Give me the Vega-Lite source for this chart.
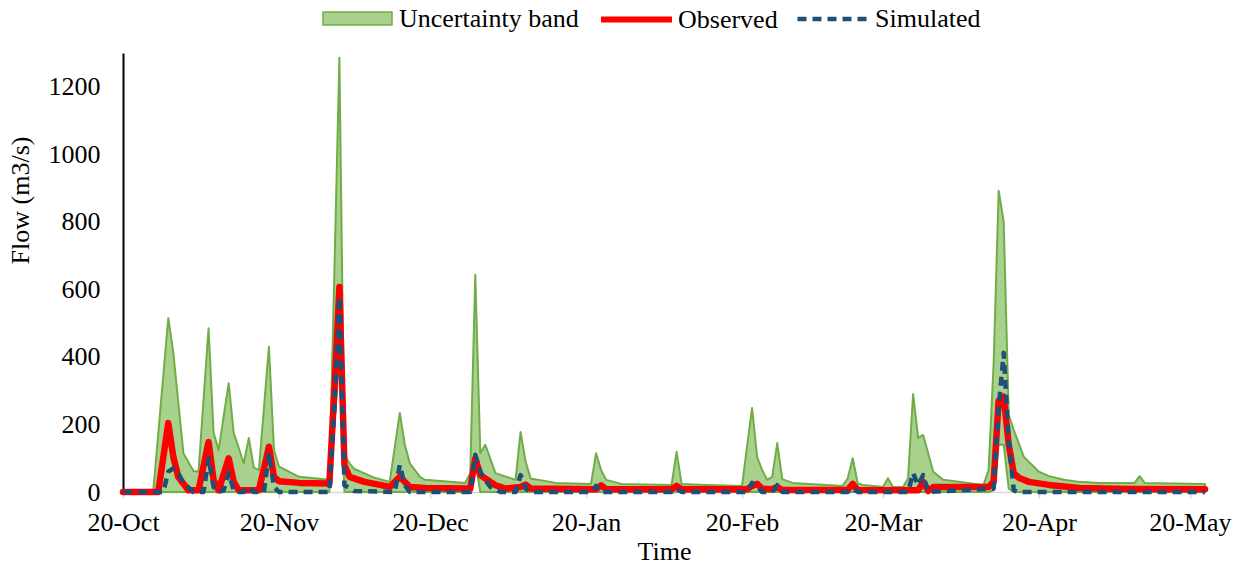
{
  "$schema": "https://vega.github.io/schema/vega-lite/v6.json",
  "width": 1082,
  "height": 439,
  "autosize": {"type": "none"},
  "padding": {"left": 123, "top": 53, "right": 32, "bottom": 77},
  "background": "white",
  "config": {
    "font": "Liberation Serif",
    "view": {"stroke": null},
    "axis": {"labelFont": "Liberation Serif", "titleFont": "Liberation Serif", "labelFontSize": 26, "titleFontSize": 26, "labelColor": "#000", "titleColor": "#000", "titleFontWeight": "normal", "grid": false},
    "legend": {"labelFont": "Liberation Serif", "labelFontSize": 26, "labelColor": "#000", "labelLimit": 500, "padding": 0, "symbolOpacity": 1}
  },
  "datasets": {
    "band": [
      {"date": "2010-10-20", "upper": 0, "lower": 0},
      {"date": "2010-10-26", "upper": 0, "lower": 0},
      {"date": "2010-10-29", "upper": 515, "lower": 0},
      {"date": "2010-10-30", "upper": 412, "lower": 0},
      {"date": "2010-11-01", "upper": 115, "lower": 0},
      {"date": "2010-11-03", "upper": 62, "lower": 0},
      {"date": "2010-11-04", "upper": 60, "lower": 0},
      {"date": "2010-11-06", "upper": 485, "lower": 0},
      {"date": "2010-11-07", "upper": 175, "lower": 0},
      {"date": "2010-11-08", "upper": 124, "lower": 0},
      {"date": "2010-11-10", "upper": 322, "lower": 0},
      {"date": "2010-11-11", "upper": 175, "lower": 0},
      {"date": "2010-11-13", "upper": 85, "lower": 0},
      {"date": "2010-11-14", "upper": 160, "lower": 0},
      {"date": "2010-11-15", "upper": 72, "lower": 0},
      {"date": "2010-11-16", "upper": 65, "lower": 0},
      {"date": "2010-11-18", "upper": 430, "lower": 0},
      {"date": "2010-11-19", "upper": 124, "lower": 0},
      {"date": "2010-11-20", "upper": 75, "lower": 0},
      {"date": "2010-11-24", "upper": 45, "lower": 0},
      {"date": "2010-11-30", "upper": 36, "lower": 0},
      {"date": "2010-12-01", "upper": 650, "lower": 200},
      {"date": "2010-12-02", "upper": 1286, "lower": 400},
      {"date": "2010-12-03", "upper": 110, "lower": 0},
      {"date": "2010-12-04", "upper": 85, "lower": 0},
      {"date": "2010-12-05", "upper": 68, "lower": 0},
      {"date": "2010-12-09", "upper": 42, "lower": 0},
      {"date": "2010-12-12", "upper": 30, "lower": 0},
      {"date": "2010-12-14", "upper": 234, "lower": 0},
      {"date": "2010-12-15", "upper": 140, "lower": 0},
      {"date": "2010-12-16", "upper": 85, "lower": 0},
      {"date": "2010-12-18", "upper": 45, "lower": 0},
      {"date": "2010-12-19", "upper": 36, "lower": 0},
      {"date": "2010-12-27", "upper": 27, "lower": 0},
      {"date": "2010-12-28", "upper": 56, "lower": 5},
      {"date": "2010-12-29", "upper": 643, "lower": 90},
      {"date": "2010-12-30", "upper": 115, "lower": 0},
      {"date": "2010-12-31", "upper": 140, "lower": 0},
      {"date": "2011-01-02", "upper": 56, "lower": 0},
      {"date": "2011-01-06", "upper": 36, "lower": 0},
      {"date": "2011-01-07", "upper": 178, "lower": 0},
      {"date": "2011-01-08", "upper": 90, "lower": 0},
      {"date": "2011-01-09", "upper": 40, "lower": 0},
      {"date": "2011-01-14", "upper": 27, "lower": 0},
      {"date": "2011-01-21", "upper": 24, "lower": 0},
      {"date": "2011-01-22", "upper": 115, "lower": 0},
      {"date": "2011-01-23", "upper": 65, "lower": 0},
      {"date": "2011-01-24", "upper": 36, "lower": 0},
      {"date": "2011-01-27", "upper": 24, "lower": 0},
      {"date": "2011-02-06", "upper": 21, "lower": 0},
      {"date": "2011-02-07", "upper": 119, "lower": 0},
      {"date": "2011-02-08", "upper": 24, "lower": 0},
      {"date": "2011-02-13", "upper": 21, "lower": 0},
      {"date": "2011-02-20", "upper": 18, "lower": 0},
      {"date": "2011-02-22", "upper": 249, "lower": 0},
      {"date": "2011-02-23", "upper": 104, "lower": 0},
      {"date": "2011-02-24", "upper": 65, "lower": 0},
      {"date": "2011-02-25", "upper": 36, "lower": 0},
      {"date": "2011-02-26", "upper": 45, "lower": 0},
      {"date": "2011-02-27", "upper": 145, "lower": 0},
      {"date": "2011-02-28", "upper": 38, "lower": 0},
      {"date": "2011-03-02", "upper": 27, "lower": 0},
      {"date": "2011-03-12", "upper": 18, "lower": 0},
      {"date": "2011-03-13", "upper": 40, "lower": 0},
      {"date": "2011-03-14", "upper": 100, "lower": 0},
      {"date": "2011-03-15", "upper": 25, "lower": 0},
      {"date": "2011-03-16", "upper": 21, "lower": 0},
      {"date": "2011-03-20", "upper": 15, "lower": 0},
      {"date": "2011-03-21", "upper": 41, "lower": 0},
      {"date": "2011-03-22", "upper": 15, "lower": 0},
      {"date": "2011-03-24", "upper": 15, "lower": 0},
      {"date": "2011-03-25", "upper": 41, "lower": 0},
      {"date": "2011-03-26", "upper": 290, "lower": 0},
      {"date": "2011-03-27", "upper": 160, "lower": 0},
      {"date": "2011-03-28", "upper": 169, "lower": 0},
      {"date": "2011-03-30", "upper": 60, "lower": 0},
      {"date": "2011-04-01", "upper": 36, "lower": 0},
      {"date": "2011-04-09", "upper": 21, "lower": 0},
      {"date": "2011-04-10", "upper": 65, "lower": 0},
      {"date": "2011-04-11", "upper": 380, "lower": 5},
      {"date": "2011-04-12", "upper": 892, "lower": 140},
      {"date": "2011-04-13", "upper": 800, "lower": 140},
      {"date": "2011-04-14", "upper": 228, "lower": 10},
      {"date": "2011-04-15", "upper": 184, "lower": 0},
      {"date": "2011-04-17", "upper": 104, "lower": 0},
      {"date": "2011-04-20", "upper": 60, "lower": 0},
      {"date": "2011-04-22", "upper": 47, "lower": 0},
      {"date": "2011-04-25", "upper": 36, "lower": 0},
      {"date": "2011-04-28", "upper": 30, "lower": 0},
      {"date": "2011-05-02", "upper": 27, "lower": 0},
      {"date": "2011-05-09", "upper": 27, "lower": 0},
      {"date": "2011-05-10", "upper": 47, "lower": 0},
      {"date": "2011-05-11", "upper": 27, "lower": 0},
      {"date": "2011-05-23", "upper": 24, "lower": 0}
    ],
    "obs": [
      {"date": "2010-10-20", "v": 0},
      {"date": "2010-10-27", "v": 0},
      {"date": "2010-10-29", "v": 204},
      {"date": "2010-10-30", "v": 104},
      {"date": "2010-10-31", "v": 44},
      {"date": "2010-11-02", "v": 5},
      {"date": "2010-11-04", "v": 5},
      {"date": "2010-11-06", "v": 148},
      {"date": "2010-11-07", "v": 36},
      {"date": "2010-11-08", "v": 5},
      {"date": "2010-11-10", "v": 100},
      {"date": "2010-11-11", "v": 30},
      {"date": "2010-11-12", "v": 5},
      {"date": "2010-11-16", "v": 5},
      {"date": "2010-11-18", "v": 134},
      {"date": "2010-11-19", "v": 45},
      {"date": "2010-11-20", "v": 32},
      {"date": "2010-11-24", "v": 27},
      {"date": "2010-11-30", "v": 25},
      {"date": "2010-12-01", "v": 300},
      {"date": "2010-12-02", "v": 607},
      {"date": "2010-12-03", "v": 80},
      {"date": "2010-12-04", "v": 45},
      {"date": "2010-12-07", "v": 30},
      {"date": "2010-12-12", "v": 15},
      {"date": "2010-12-14", "v": 45},
      {"date": "2010-12-16", "v": 15},
      {"date": "2010-12-19", "v": 12},
      {"date": "2010-12-28", "v": 10},
      {"date": "2010-12-29", "v": 100},
      {"date": "2010-12-30", "v": 50},
      {"date": "2010-12-31", "v": 40},
      {"date": "2011-01-01", "v": 30},
      {"date": "2011-01-02", "v": 20},
      {"date": "2011-01-04", "v": 10},
      {"date": "2011-01-07", "v": 15},
      {"date": "2011-01-08", "v": 22},
      {"date": "2011-01-09", "v": 10},
      {"date": "2011-01-22", "v": 8},
      {"date": "2011-01-23", "v": 20},
      {"date": "2011-01-24", "v": 8},
      {"date": "2011-02-06", "v": 8},
      {"date": "2011-02-07", "v": 18},
      {"date": "2011-02-08", "v": 8},
      {"date": "2011-02-21", "v": 8},
      {"date": "2011-02-22", "v": 18},
      {"date": "2011-02-23", "v": 24},
      {"date": "2011-02-24", "v": 10},
      {"date": "2011-02-26", "v": 8},
      {"date": "2011-02-27", "v": 15},
      {"date": "2011-02-28", "v": 6},
      {"date": "2011-03-13", "v": 6},
      {"date": "2011-03-14", "v": 24},
      {"date": "2011-03-15", "v": 6},
      {"date": "2011-03-27", "v": 5},
      {"date": "2011-03-28", "v": 30},
      {"date": "2011-03-29", "v": 3},
      {"date": "2011-03-30", "v": 15},
      {"date": "2011-04-10", "v": 15},
      {"date": "2011-04-11", "v": 30},
      {"date": "2011-04-12", "v": 270},
      {"date": "2011-04-13", "v": 282},
      {"date": "2011-04-14", "v": 140},
      {"date": "2011-04-15", "v": 55},
      {"date": "2011-04-16", "v": 42},
      {"date": "2011-04-18", "v": 30},
      {"date": "2011-04-22", "v": 21},
      {"date": "2011-04-28", "v": 12},
      {"date": "2011-05-08", "v": 9},
      {"date": "2011-05-23", "v": 8}
    ],
    "sim": [
      {"date": "2010-10-20", "v": 0},
      {"date": "2010-10-28", "v": 0},
      {"date": "2010-10-29", "v": 60},
      {"date": "2010-10-30", "v": 70},
      {"date": "2010-10-31", "v": 55},
      {"date": "2010-11-01", "v": 27},
      {"date": "2010-11-03", "v": 0},
      {"date": "2010-11-05", "v": 0},
      {"date": "2010-11-06", "v": 100},
      {"date": "2010-11-07", "v": 15},
      {"date": "2010-11-08", "v": 0},
      {"date": "2010-11-09", "v": 5},
      {"date": "2010-11-10", "v": 56},
      {"date": "2010-11-11", "v": 5},
      {"date": "2010-11-12", "v": 0},
      {"date": "2010-11-13", "v": 0},
      {"date": "2010-11-14", "v": 15},
      {"date": "2010-11-15", "v": 0},
      {"date": "2010-11-17", "v": 0},
      {"date": "2010-11-18", "v": 115},
      {"date": "2010-11-19", "v": 15},
      {"date": "2010-11-20", "v": 0},
      {"date": "2010-11-30", "v": 0},
      {"date": "2010-12-01", "v": 250},
      {"date": "2010-12-02", "v": 578},
      {"date": "2010-12-03", "v": 20},
      {"date": "2010-12-04", "v": 12},
      {"date": "2010-12-05", "v": 3},
      {"date": "2010-12-13", "v": 0},
      {"date": "2010-12-14", "v": 80},
      {"date": "2010-12-15", "v": 20},
      {"date": "2010-12-16", "v": 0},
      {"date": "2010-12-28", "v": 0},
      {"date": "2010-12-29", "v": 110},
      {"date": "2010-12-30", "v": 60},
      {"date": "2010-12-31", "v": 35},
      {"date": "2011-01-01", "v": 15},
      {"date": "2011-01-03", "v": 0},
      {"date": "2011-01-06", "v": 0},
      {"date": "2011-01-07", "v": 50},
      {"date": "2011-01-08", "v": 10},
      {"date": "2011-01-09", "v": 0},
      {"date": "2011-01-21", "v": 0},
      {"date": "2011-01-22", "v": 18},
      {"date": "2011-01-23", "v": 0},
      {"date": "2011-02-06", "v": 0},
      {"date": "2011-02-07", "v": 10},
      {"date": "2011-02-08", "v": 0},
      {"date": "2011-02-21", "v": 0},
      {"date": "2011-02-22", "v": 27},
      {"date": "2011-02-23", "v": 18},
      {"date": "2011-02-24", "v": 0},
      {"date": "2011-02-26", "v": 0},
      {"date": "2011-02-27", "v": 20},
      {"date": "2011-02-28", "v": 0},
      {"date": "2011-03-13", "v": 0},
      {"date": "2011-03-14", "v": 10},
      {"date": "2011-03-15", "v": 0},
      {"date": "2011-03-25", "v": 0},
      {"date": "2011-03-26", "v": 56},
      {"date": "2011-03-27", "v": 20},
      {"date": "2011-03-28", "v": 50},
      {"date": "2011-03-29", "v": 0},
      {"date": "2011-04-11", "v": 10},
      {"date": "2011-04-12", "v": 250},
      {"date": "2011-04-13", "v": 412},
      {"date": "2011-04-14", "v": 150},
      {"date": "2011-04-15", "v": 5},
      {"date": "2011-04-16", "v": 0},
      {"date": "2011-05-23", "v": 0}
    ]
  },
  "layer": [
    {
      "data": {"name": "band"},
      "mark": {"type": "area", "stroke": "#70ad47", "strokeWidth": 2, "opacity": 1, "strokeJoin": "round"},
      "encoding": {
        "x": {
          "field": "date", "type": "temporal", "title": "Time",
          "scale": {"type": "utc", "domain": [{"year": 2010, "month": 10, "date": 20, "utc": true}, {"year": 2011, "month": 5, "date": 23, "utc": true}]},
          "axis": {
            "values": [
              {"year": 2010, "month": 10, "date": 20, "utc": true},
              {"year": 2010, "month": 11, "date": 20, "utc": true},
              {"year": 2010, "month": 12, "date": 20, "utc": true},
              {"year": 2011, "month": 1, "date": 20, "utc": true},
              {"year": 2011, "month": 2, "date": 20, "utc": true},
              {"year": 2011, "month": 3, "date": 20, "utc": true},
              {"year": 2011, "month": 4, "date": 20, "utc": true},
              {"year": 2011, "month": 5, "date": 20, "utc": true}
            ],
            "format": "%d-%b",
            "domainColor": "#d9d9d9", "domainWidth": 1.5,
            "tickColor": "#d9d9d9", "tickWidth": 1.5, "tickSize": 6,
            "labelPadding": 32, "labelBaseline": "alphabetic",
            "labelFlush": false, "labelOverlap": false,
            "titleBaseline": "alphabetic", "titleY": 67
          }
        },
        "y": {
          "field": "upper", "type": "quantitative", "title": "Flow (m3/s)",
          "scale": {"domain": [0, 1300], "nice": false},
          "axis": {
            "values": [0, 200, 400, 600, 800, 1000, 1200],
            "format": "d",
            "ticks": false, "tickSize": 0, "labelPadding": 23,
            "domainColor": "#000", "domainWidth": 2,
            "titleX": -103, "titleY": 147, "titleBaseline": "middle"
          }
        },
        "y2": {"field": "lower"},
        "fill": {
          "datum": "Uncertainty band",
          "scale": {"range": ["#a9d18e"]},
          "legend": {
            "orient": "none", "legendX": 199, "legendY": -70, "title": null,
            "symbolType": "M-1,-0.19H1V0.19H-1Z", "symbolSize": 4761,
            "symbolStrokeColor": "#70ad47", "symbolStrokeWidth": 1.5,
            "labelOffset": 6
          }
        }
      }
    },
    {
      "data": {"name": "obs"},
      "mark": {"type": "line", "strokeWidth": 6.5, "strokeJoin": "round", "strokeCap": "round"},
      "encoding": {
        "x": {"field": "date", "type": "temporal", "title": "Time"},
        "y": {"field": "v", "type": "quantitative", "title": "Flow (m3/s)"},
        "stroke": {
          "datum": "Observed",
          "scale": {"range": ["#ff0000"]},
          "legend": {
            "orient": "none", "legendX": 475, "legendY": -72, "title": null,
            "symbolType": "stroke", "symbolSize": 5041, "symbolStrokeWidth": 6,
            "labelOffset": 3
          }
        }
      }
    },
    {
      "data": {"name": "sim"},
      "mark": {"type": "line", "color": "#1f4e79", "strokeWidth": 4.5, "strokeCap": "butt", "strokeJoin": "round"},
      "encoding": {
        "x": {"field": "date", "type": "temporal", "title": "Time"},
        "y": {"field": "v", "type": "quantitative", "title": "Flow (m3/s)"},
        "strokeDash": {
          "datum": "Simulated",
          "scale": {"range": [[9, 6]]},
          "legend": {
            "orient": "none", "legendX": 672, "legendY": -72, "title": null,
            "symbolType": "stroke", "symbolSize": 5041, "symbolStrokeWidth": 4.5,
            "symbolStrokeColor": "#1f4e79",
            "labelOffset": 4
          }
        }
      }
    }
  ]
}
